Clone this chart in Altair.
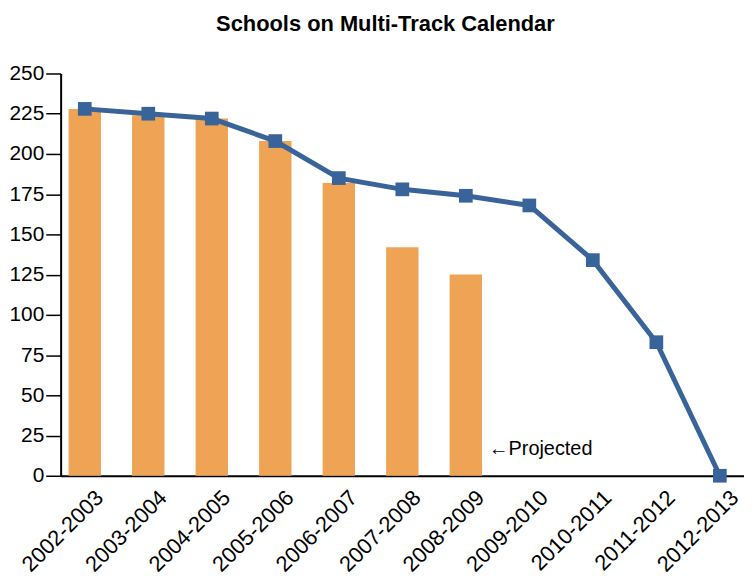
import altair as alt
import pandas as pd

years = ["2002-2003", "2003-2004", "2004-2005", "2005-2006", "2006-2007",
         "2007-2008", "2008-2009", "2009-2010", "2010-2011", "2011-2012", "2012-2013"]
actual = [228, 224, 222, 208, 182, 142, 125]
projected = [228, 225, 222, 208, 185, 178, 174, 168, 134, 83, 0]
note_label = "←Projected"
note_year = "2008-2009"
note_value = 13
y_ticks = [0, 25, 50, 75, 100, 125, 150, 175, 200, 225, 250]

FONT = "Liberation Sans"
BAR = "#EFA354"
LINE = "#386499"

bars_df = pd.DataFrame({"year": years[:len(actual)], "schools": actual})
line_df = pd.DataFrame({"year": years, "schools": projected})
note_df = pd.DataFrame({"year": [note_year], "schools": [note_value], "label": [note_label]})

x = alt.X("year:N", sort=years,
          scale=alt.Scale(domain=years, paddingInner=0.49, paddingOuter=0.125),
          axis=alt.Axis(title=None, labelAngle=-45, ticks=False, domainColor="black",
                        domainWidth=2, labelFontSize=22, labelColor="black", labelFont=FONT,
                        labelOffset=8, labelPadding=11))
y = alt.Y("schools:Q", scale=alt.Scale(domain=[0, 250], nice=False),
          axis=alt.Axis(title=None, values=y_ticks, grid=False, tickColor="black", tickSize=15,
                        tickWidth=1.5, domainColor="black", domainWidth=2, labelFontSize=21,
                        labelColor="black", labelFont=FONT, labelPadding=2))

bars = alt.Chart(bars_df).mark_bar(color=BAR).encode(x=x, y=y)
line = alt.Chart(line_df).mark_line(color=LINE, strokeWidth=5).encode(x=x, y=y)
points = alt.Chart(line_df).mark_point(shape="square", filled=True, size=190, color=LINE, opacity=1).encode(x=x, y=y)
note = alt.Chart(note_df).mark_text(align="left", baseline="alphabetic", dx=23, fontSize=20,
                                     font=FONT, color="black").encode(x=x, y=y, text="label:N")

chart = alt.layer(bars, line, points, note).properties(
    width=688, height=405,
    background="white",
    title=alt.TitleParams("Schools on Multi-Track Calendar", font=FONT, fontSize=22,
                          fontWeight="bold", color="black", anchor="middle", dx=-17, offset=27),
    padding={"left": 0, "top": 3, "right": 0, "bottom": 0},
).configure_view(stroke=None, strokeWidth=0)

chart.save("out.html", embed_options={"renderer": "svg", "actions": False})
